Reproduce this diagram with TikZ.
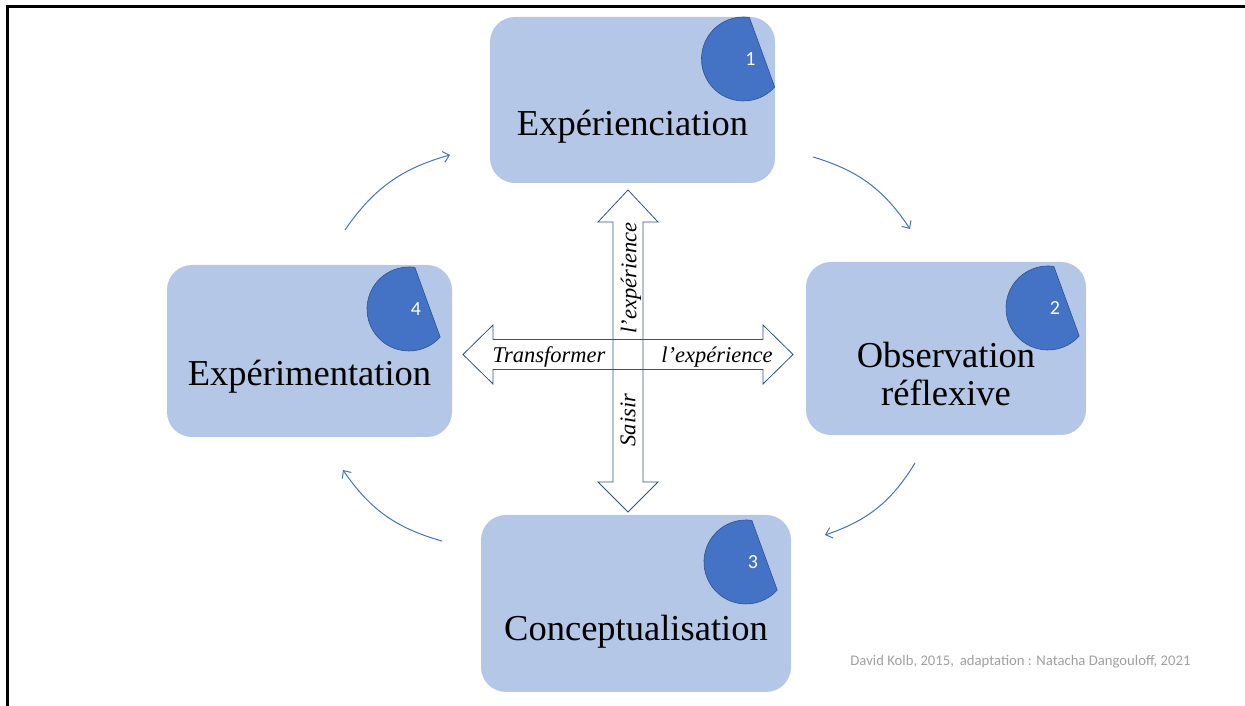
\documentclass[tikz,border=0pt]{standalone}
\usepackage{fontspec}
\setmainfont{Liberation Serif}
\newfontfamily\calibrifont{Carlito}
\usetikzlibrary{calc,arrows.meta}
\definecolor{boxblue}{HTML}{B4C7E7}
\definecolor{pieblue}{HTML}{4472C4}
\definecolor{pieline}{HTML}{2F528F}
\definecolor{footgray}{HTML}{A0A0A0}
\def\stagepie(#1)(#2)#3{\filldraw[fill=pieblue,draw=pieline,line width=0.6pt] ($(#1)+(#2)+(82:42)$) arc (82:318:42) -- cycle;
  \node[numtext] (num#3) at ($(#1)+(#2)+(7,0)$) {#3};}

\tikzset{
  stage/.style={fill=boxblue, rounded corners=25pt, inner sep=0pt},
  stagetext/.style={font=\fontsize{36.5}{38}\selectfont, align=center},
  numtext/.style={text=white, font=\calibrifont\fontsize{20}{20}\selectfont},
  cyclearrow/.style={draw=pieblue, line width=1pt, -{Straight Barb[length=6pt,width=11pt]}},
  crossarrow/.style={draw=pieline, line width=0.8pt},
  crosstext/.style={font=\itshape\fontsize{22.5}{24}\selectfont},
}

\begin{document}
\begin{tikzpicture}[x=1pt,y=1pt]
			%%%%% START %%%%%
			\useasboundingbox (0,0) rectangle (1245,706);
			\draw[line width=3pt] (7.5,0) -- (7.5,699) -- (1245,699);
			
			% les quatre etapes
			\node[stage, minimum width=285pt, minimum height=166pt] (exper) at (632.5,606) {};
			\node[stage, minimum width=280pt, minimum height=173pt] (observ) at (946,357.5) {};
			\node[stage, minimum width=310pt, minimum height=177pt] (concept) at (636,102.5) {};
			\node[stage, minimum width=285pt, minimum height=172pt] (experim) at (309.5,355) {};
			
			\stagepie(exper)(111,41){1}
			\stagepie(observ)(102,40.5){2}
			\stagepie(concept)(110,41.5){3}
			\stagepie(experim)(99.5,42){4}
			
			\node[stagetext] (experT) at ($(exper)+(0,-27)$) {Expérienciation};
			\node[stagetext] (observT) at ($(observ)+(0,-25.5)$) {Observation\\réflexive};
			\node[stagetext] (conceptT) at ($(concept)+(0,-28.5)$) {Conceptualisation};
			\node[stagetext] (experimT) at ($(experim)+(0,-26)$) {Expérimentation};
			
			% le cycle
			\coordinate (c41a) at (345,476);
			\coordinate (c41b) at (450,551);
			\coordinate (c12a) at (813,549);
			\coordinate (c12b) at (910,477);
			\coordinate (c23a) at (915,243);
			\coordinate (c23b) at (825,171);
			\coordinate (c34a) at (442,165);
			\coordinate (c34b) at (343,236);
			\draw[cyclearrow] (c41a) to[bend left=20] (c41b);
			\draw[cyclearrow] (c12a) to[bend left=20] (c12b);
			\draw[cyclearrow] (c23a) to[bend left=20] (c23b);
			\draw[cyclearrow] (c34a) to[bend left=20] (c34b);
			
			% la croix
			\draw[crossarrow] (628,516) -- (658,484) -- (643,484) -- (643,224) -- (658,224) -- (628,194) -- (598,224) -- (613,224) -- (613,484) -- (598,484) -- cycle;
			\draw[crossarrow] (463,351.5) -- (493,381) -- (493,366.5) -- (763,366.5) -- (763,381) -- (793,351.5) -- (763,322) -- (763,336.5) -- (493,336.5) -- (493,322) -- cycle;
			
			\node[crosstext] (transf) at (549,349) {Transformer};
			\node[crosstext] (experH) at (717,349) {l’expérience};
			\node[crosstext, rotate=90] (experV) at (631,428) {l’expérience};
			\node[crosstext, rotate=90] (saisir) at (628,286) {Saisir};
			
			\node[text=footgray, font=\calibrifont\fontsize{14.7}{16}\selectfont] (credit) at (1020.5,44) {David Kolb, 2015,\hspace{0.4em}adaptation : Natacha Dangouloff, 2021};
			%%%%% END %%%%%
\end{tikzpicture}
\end{document}
